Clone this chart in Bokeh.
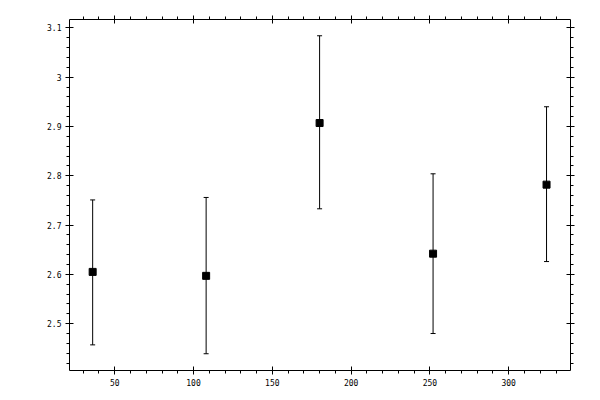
from bokeh.plotting import figure
from bokeh.models import (Whisker, TeeHead, ColumnDataSource, LinearAxis,
                          SingleIntervalTicker, CustomJSTickFormatter, Range1d)
from bokeh.embed import file_html
from bokeh.resources import INLINE

x_vals = [36, 108, 180, 252, 324]
y_vals = [2.605, 2.597, 2.907, 2.642, 2.782]
y_upper = [2.751, 2.756, 3.084, 2.804, 2.940]
y_lower = [2.457, 2.439, 2.733, 2.480, 2.626]

src = ColumnDataSource(dict(x=x_vals, y=y_vals, upper=y_upper, lower=y_lower))

p = figure(width=592, height=392, output_backend="svg", toolbar_location=None,
           x_range=Range1d(21.3, 339.2), y_range=Range1d(2.405, 3.117),
           x_axis_location=None, y_axis_location=None,
           min_border_left=69, min_border_right=22, min_border_top=19, min_border_bottom=22)
p.xgrid.visible = False
p.ygrid.visible = False
p.outline_line_color = None
p.background_fill_color = "white"
p.border_fill_color = "white"

fmt = CustomJSTickFormatter(code="return String(Number(tick.toFixed(3)));")
blank = CustomJSTickFormatter(code="return '';")

def style(ax, labels=True):
    ax.axis_line_color = "black"
    ax.axis_line_width = 1
    ax.major_tick_line_color = "black"
    ax.minor_tick_line_color = "black"
    ax.major_tick_in = 4
    ax.major_tick_out = 4
    ax.minor_tick_in = 0
    ax.minor_tick_out = 3
    ax.major_label_text_font = "DejaVu Sans Mono"
    ax.major_label_text_font_size = "8px" if labels else "0px"
    ax.major_label_text_color = "black"
    ax.major_label_standoff = 4 if labels else 0

xt = lambda: SingleIntervalTicker(interval=50, num_minor_ticks=5)
yt = lambda: SingleIntervalTicker(interval=0.1, num_minor_ticks=5)

bottom = LinearAxis(ticker=xt(), formatter=fmt); style(bottom)
top = LinearAxis(ticker=xt(), formatter=blank); style(top, False)
left = LinearAxis(ticker=yt(), formatter=fmt); style(left)
right = LinearAxis(ticker=yt(), formatter=blank); style(right, False)
p.add_layout(bottom, "below")
p.add_layout(top, "above")
p.add_layout(left, "left")
p.add_layout(right, "right")

w = Whisker(source=src, base="x", upper="upper", lower="lower",
            line_color="black", line_width=1,
            upper_head=TeeHead(size=5, line_color="black", line_width=1),
            lower_head=TeeHead(size=5, line_color="black", line_width=1))
p.add_layout(w)

p.scatter("x", "y", source=src, marker="square", size=7, fill_color="black", line_color="black")

open("out.html", "w").write(file_html(p, INLINE))
